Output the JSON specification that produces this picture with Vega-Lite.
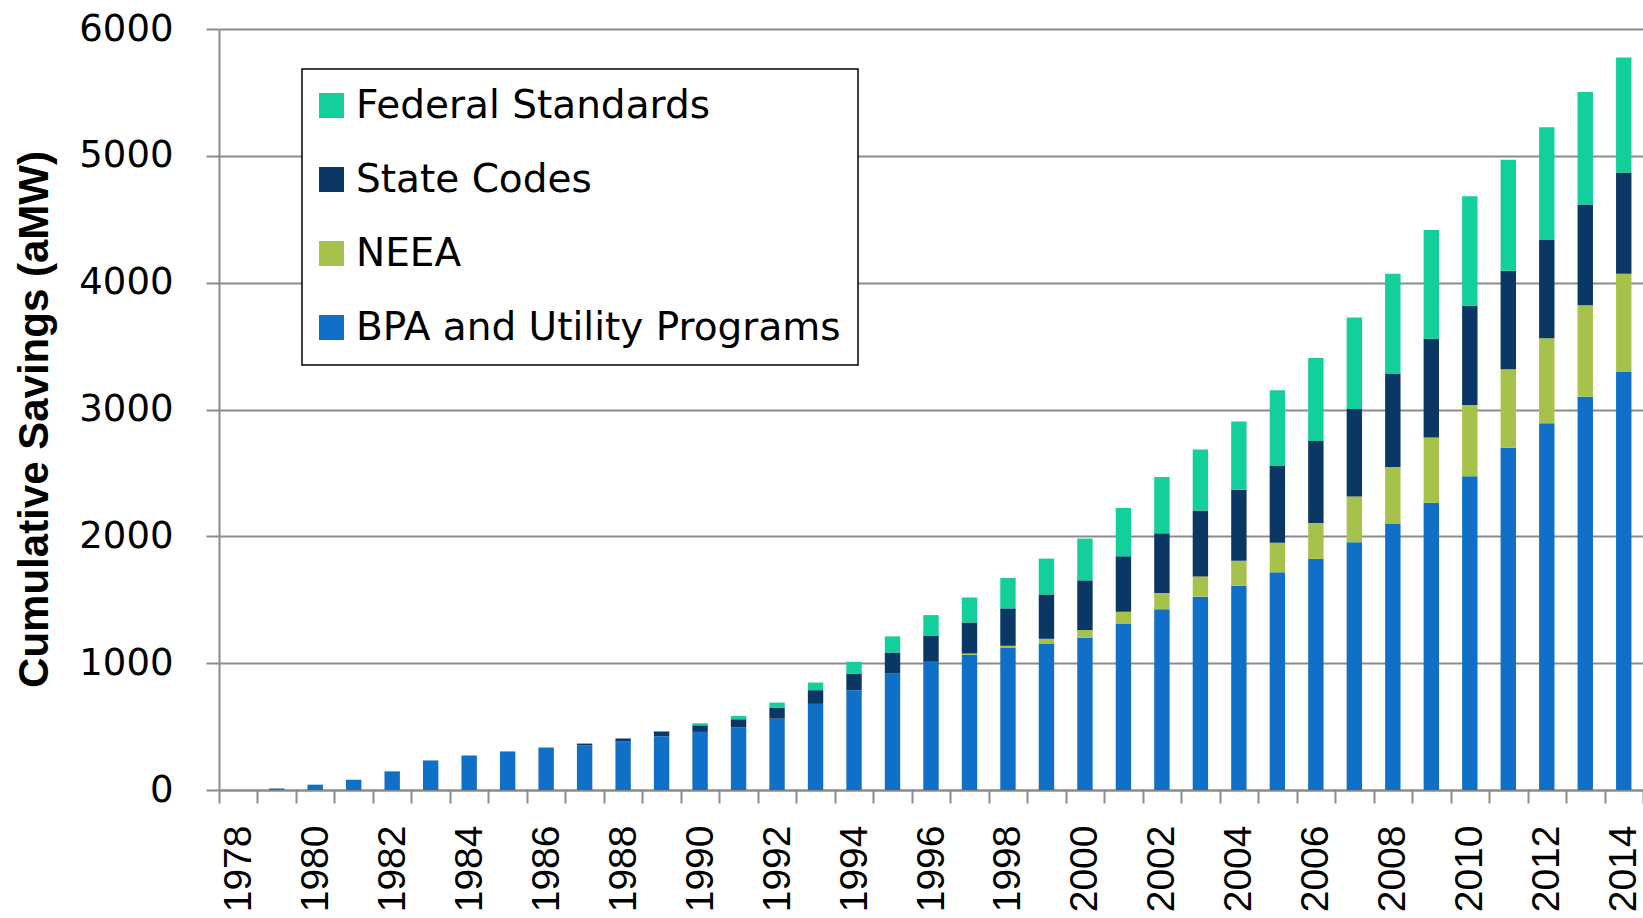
{
  "$schema": "https://vega.github.io/schema/vega-lite/v6.json",
  "autosize": {"type": "none"},
  "padding": {"left": 219, "top": 29, "right": 0, "bottom": 128},
  "width": 1424,
  "height": 761,
  "background": "white",
  "data": {
    "values": [
      {"year": 1978, "BPA and Utility Programs": 0, "NEEA": 0, "State Codes": 0, "Federal Standards": 0},
      {"year": 1979, "BPA and Utility Programs": 12, "NEEA": 0, "State Codes": 0, "Federal Standards": 0},
      {"year": 1980, "BPA and Utility Programs": 42, "NEEA": 0, "State Codes": 0, "Federal Standards": 0},
      {"year": 1981, "BPA and Utility Programs": 81, "NEEA": 0, "State Codes": 0, "Federal Standards": 0},
      {"year": 1982, "BPA and Utility Programs": 147, "NEEA": 0, "State Codes": 0, "Federal Standards": 0},
      {"year": 1983, "BPA and Utility Programs": 233, "NEEA": 0, "State Codes": 0, "Federal Standards": 0},
      {"year": 1984, "BPA and Utility Programs": 272, "NEEA": 0, "State Codes": 0, "Federal Standards": 0},
      {"year": 1985, "BPA and Utility Programs": 304, "NEEA": 0, "State Codes": 0, "Federal Standards": 0},
      {"year": 1986, "BPA and Utility Programs": 335, "NEEA": 0, "State Codes": 0, "Federal Standards": 0},
      {"year": 1987, "BPA and Utility Programs": 353, "NEEA": 0, "State Codes": 13, "Federal Standards": 0},
      {"year": 1988, "BPA and Utility Programs": 382, "NEEA": 0, "State Codes": 24, "Federal Standards": 0},
      {"year": 1989, "BPA and Utility Programs": 424, "NEEA": 0, "State Codes": 37, "Federal Standards": 4},
      {"year": 1990, "BPA and Utility Programs": 458, "NEEA": 0, "State Codes": 52, "Federal Standards": 16},
      {"year": 1991, "BPA and Utility Programs": 492, "NEEA": 0, "State Codes": 66, "Federal Standards": 26},
      {"year": 1992, "BPA and Utility Programs": 563, "NEEA": 0, "State Codes": 84, "Federal Standards": 42},
      {"year": 1993, "BPA and Utility Programs": 679, "NEEA": 0, "State Codes": 108, "Federal Standards": 60},
      {"year": 1994, "BPA and Utility Programs": 787, "NEEA": 0, "State Codes": 131, "Federal Standards": 93},
      {"year": 1995, "BPA and Utility Programs": 918, "NEEA": 0, "State Codes": 166, "Federal Standards": 127},
      {"year": 1996, "BPA and Utility Programs": 1011, "NEEA": 0, "State Codes": 207, "Federal Standards": 161},
      {"year": 1997, "BPA and Utility Programs": 1066, "NEEA": 10, "State Codes": 245, "Federal Standards": 197},
      {"year": 1998, "BPA and Utility Programs": 1124, "NEEA": 13, "State Codes": 295, "Federal Standards": 239},
      {"year": 1999, "BPA and Utility Programs": 1155, "NEEA": 37, "State Codes": 350, "Federal Standards": 282},
      {"year": 2000, "BPA and Utility Programs": 1200, "NEEA": 61, "State Codes": 392, "Federal Standards": 329},
      {"year": 2001, "BPA and Utility Programs": 1313, "NEEA": 92, "State Codes": 437, "Federal Standards": 382},
      {"year": 2002, "BPA and Utility Programs": 1426, "NEEA": 127, "State Codes": 471, "Federal Standards": 444},
      {"year": 2003, "BPA and Utility Programs": 1524, "NEEA": 160, "State Codes": 519, "Federal Standards": 481},
      {"year": 2004, "BPA and Utility Programs": 1611, "NEEA": 197, "State Codes": 560, "Federal Standards": 537},
      {"year": 2005, "BPA and Utility Programs": 1716, "NEEA": 234, "State Codes": 605, "Federal Standards": 596},
      {"year": 2006, "BPA and Utility Programs": 1822, "NEEA": 283, "State Codes": 647, "Federal Standards": 655},
      {"year": 2007, "BPA and Utility Programs": 1953, "NEEA": 361, "State Codes": 690, "Federal Standards": 721},
      {"year": 2008, "BPA and Utility Programs": 2101, "NEEA": 446, "State Codes": 732, "Federal Standards": 791},
      {"year": 2009, "BPA and Utility Programs": 2264, "NEEA": 515, "State Codes": 779, "Federal Standards": 857},
      {"year": 2010, "BPA and Utility Programs": 2473, "NEEA": 562, "State Codes": 783, "Federal Standards": 864},
      {"year": 2011, "BPA and Utility Programs": 2698, "NEEA": 620, "State Codes": 775, "Federal Standards": 876},
      {"year": 2012, "BPA and Utility Programs": 2891, "NEEA": 671, "State Codes": 779, "Federal Standards": 884},
      {"year": 2013, "BPA and Utility Programs": 3101, "NEEA": 721, "State Codes": 794, "Federal Standards": 888},
      {"year": 2014, "BPA and Utility Programs": 3295, "NEEA": 775, "State Codes": 798, "Federal Standards": 907}
    ]
  },
  "transform": [
    {"fold": ["BPA and Utility Programs", "NEEA", "State Codes", "Federal Standards"], "as": ["series", "value"]},
    {"calculate": "indexof(['BPA and Utility Programs','NEEA','State Codes','Federal Standards'], datum.series)", "as": "stackOrder"}
  ],
  "mark": {"type": "bar", "width": {"band": 0.4}},
  "encoding": {
    "x": {
      "field": "year",
      "type": "ordinal",
      "scale": {"paddingInner": 0, "paddingOuter": 0},
      "axis": {
        "title": null,
        "labelAngle": -90,
        "labelExpr": "datum.value % 2 == 0 ? datum.label : ''",
        "labelOverlap": false,
        "labelFont": "Liberation Sans",
        "labelFontSize": 39,
        "labelColor": "black",
        "labelPadding": 22,
        "tickBand": "extent",
        "tickSize": 13,
        "tickWidth": 2,
        "tickColor": "#8c8c8c",
        "domainColor": "#8c8c8c",
        "domainWidth": 2,
        "grid": false
      }
    },
    "y": {
      "field": "value",
      "type": "quantitative",
      "stack": "zero",
      "scale": {"domain": [0, 6000], "nice": false},
      "axis": {
        "title": "Cumulative Savings (aMW)",
        "titleFont": "Liberation Sans",
        "titleFontWeight": "bold",
        "titleFontSize": 42,
        "titleColor": "black",
        "titlePadding": 22,
        "titleY": 390,
        "format": "d",
        "values": [0, 1000, 2000, 3000, 4000, 5000, 6000],
        "labelFont": "DejaVu Sans",
        "labelFontSize": 37,
        "labelColor": "black",
        "labelPadding": 33,
        "tickSize": 13,
        "tickWidth": 2,
        "tickColor": "#8c8c8c",
        "domainColor": "#8c8c8c",
        "domainWidth": 2,
        "grid": true,
        "gridColor": "#8c8c8c",
        "gridWidth": 2
      }
    },
    "color": {
      "field": "series",
      "type": "nominal",
      "scale": {
        "domain": ["Federal Standards", "State Codes", "NEEA", "BPA and Utility Programs"],
        "range": ["#12CF9B", "#0A3764", "#A7C24A", "#1070C8"]
      },
      "legend": {
        "title": null,
        "orient": "none",
        "legendX": 83,
        "legendY": 40,
        "padding": 17,
        "strokeColor": "black",
        "fillColor": "white",
        "symbolType": "square",
        "symbolSize": 625,
        "symbolStrokeWidth": 0,
        "symbolOffset": -7,
        "labelFont": "DejaVu Sans",
        "labelFontSize": 39,
        "labelColor": "black",
        "labelOffset": 5,
        "rowPadding": 34,
        "labelLimit": 0
      }
    },
    "order": {"field": "stackOrder", "type": "quantitative", "sort": "ascending"}
  },
  "config": {
    "view": {"stroke": null},
    "legend": {"strokeWidth": 1.5}
  }
}
